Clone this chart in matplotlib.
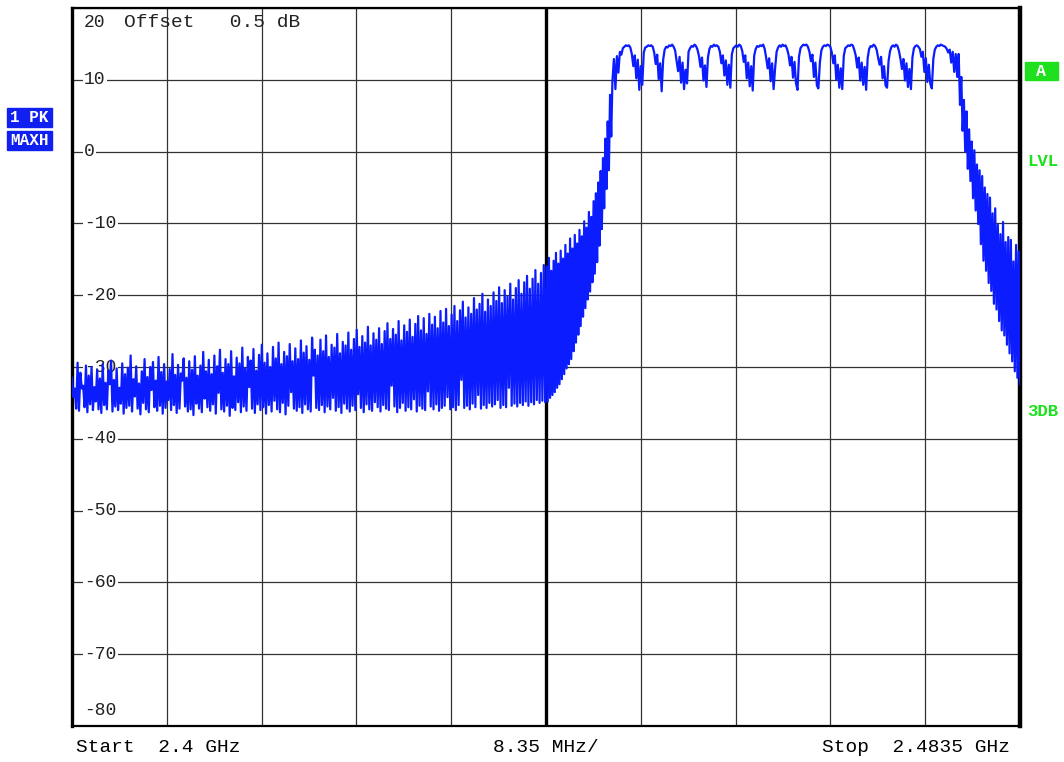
import numpy as np
import matplotlib.pyplot as plt
from matplotlib.patches import Rectangle

plt.rcParams['font.family'] = ['Liberation Mono', 'DejaVu Sans Mono']

# sweep span in MHz and the break points between trace sections
F_START, F_STOP = 2400.0, 2483.5
F_RISE, F_BAND, F_FALL = 2441.8, 2447.6, 2478.1

# noise floor below the band: max-hold peaks and the dips between them (dBm)
floor_peaks = [
    -31.5, -33.0, -29.4, -30.8, -32.6, -29.8, -31.2, -30.0, -32.8, -30.4,
    -31.6, -29.6, -32.2, -30.5, -29.1, -31.8, -30.2, -32.9, -29.5, -31.0,
    -30.1, -28.4, -31.7, -29.9, -32.3, -30.6, -28.9, -31.4, -30.0, -29.3,
    -31.9, -28.6, -30.7, -29.6, -32.0, -30.3, -28.2, -31.1, -29.7, -30.9,
    -28.8, -31.5, -29.2, -30.4, -28.5, -31.2, -29.8, -27.9, -30.6, -29.0,
    -31.0, -28.4, -29.9, -27.6, -30.8, -28.9, -29.6, -27.8, -31.3, -28.7,
    -29.5, -27.3, -30.2, -28.6, -29.1, -27.5, -30.5, -28.3, -26.9, -29.4,
    -28.1, -30.0, -27.2, -28.8, -26.6, -29.6, -27.9, -28.5, -26.8, -29.2,
    -27.4, -28.9, -26.3, -28.0, -27.1, -29.0, -25.9, -27.6, -28.4, -26.2,
    -27.8, -25.6, -28.6, -26.9, -27.3, -25.4, -28.1, -26.5, -27.0, -25.2,
    -27.6, -26.1, -24.8, -27.2, -25.7, -26.6, -24.4, -27.0, -25.3, -26.2,
    -24.6, -26.8, -25.0, -23.9, -26.1, -24.7, -25.5, -23.6, -26.3, -24.2,
    -25.1, -23.4, -25.8, -24.0, -22.9, -24.9, -23.2, -25.4, -22.6, -24.1,
    -23.0, -24.6, -22.2, -23.8, -21.9, -24.3, -22.7, -21.5, -23.6, -22.1,
    -20.9, -23.1, -21.7, -22.6, -20.4, -22.0, -21.2, -19.8, -22.3, -20.6,
    -21.5, -19.6, -20.8, -18.9, -21.1, -19.3, -20.2, -18.4, -20.6, -19.0,
    -17.9, -19.8, -18.2, -17.3, -19.1, -17.7, -16.5, -18.4, -16.9, -15.8,
]
floor_dips = [
    -34.2, -35.8, -36.1, -33.0, -35.6, -36.3, -35.2, -36.0, -34.8, -35.9,
    -36.4, -35.3, -35.9, -32.4, -36.2, -35.5, -36.0, -35.1, -36.5, -35.7,
    -35.4, -36.2, -34.1, -35.8, -36.6, -35.0, -35.9, -36.3, -33.2, -35.6,
    -36.1, -35.4, -36.5, -35.7, -34.6, -36.0, -35.3, -36.4, -35.8, -31.9,
    -35.5, -36.2, -35.9, -36.7, -35.1, -35.8, -36.3, -34.4, -35.6, -36.1,
    -35.2, -36.5, -33.6, -35.9, -36.2, -35.4, -36.8, -35.7, -36.0, -34.9,
    -36.3, -35.5, -36.1, -32.8, -35.8, -36.4, -35.2, -36.0, -35.6, -36.5,
    -35.3, -36.2, -34.7, -35.9, -36.3, -35.0, -36.6, -35.4, -33.5, -35.8,
    -36.1, -35.6, -36.4, -35.2, -35.9, -36.2, -31.2, -35.7, -36.0, -35.3,
    -36.3, -35.5, -35.9, -34.3, -36.1, -35.6, -36.4, -35.1, -35.8, -36.2,
    -35.4, -36.0, -33.8, -35.7, -36.3, -35.2, -35.9, -36.1, -34.9, -35.6,
    -36.2, -35.3, -35.8, -36.0, -32.6, -35.5, -36.3, -35.7, -35.0, -36.1,
    -35.6, -35.9, -34.5, -36.2, -35.4, -35.8, -36.0, -33.4, -35.5, -35.9,
    -35.2, -36.1, -35.7, -35.4, -34.2, -35.9, -35.6, -36.0, -35.3, -31.8,
    -35.7, -35.4, -35.9, -35.1, -35.6, -33.9, -35.8, -35.3, -35.7, -35.0,
    -35.5, -35.2, -34.6, -35.7, -35.3, -35.6, -32.9, -35.4, -35.1, -35.5,
    -35.0, -35.3, -34.8, -35.4, -34.9, -35.2, -34.6, -35.0, -34.7, -34.9,
]

# lower band edge
rise_peaks = [
    -16.0, -14.8, -16.6, -15.2, -14.1, -15.6, -13.8, -14.9, -13.0, -14.2,
    -12.1, -13.5, -11.6, -12.8, -10.9, -11.8, -9.7, -10.6, -8.4, -9.1,
    -6.9, -5.8, -4.3, -2.7, -0.9, 1.8, 4.2, 7.9,
]
rise_dips = [
    -34.8, -34.3, -33.9, -33.5, -32.9, -32.4, -31.7, -31.0, -30.2, -29.6,
    -28.9, -27.8, -26.6, -25.5, -24.3, -23.0, -21.8, -20.6, -19.5, -18.2,
    -17.0, -15.4, -13.1, -10.8, -7.9, -5.2, -2.6, 2.1,
]

# in-band level, 2 MHz hopping channels
band_level = [
    9.8, 12.9, 8.7, 13.3, 11.0, 13.9, 13.5, 14.4, 14.6, 14.8,
    14.7, 14.8, 14.5, 13.6, 11.9, 13.4, 10.2, 12.8, 8.6, 11.9,
    9.3, 13.8, 14.5, 14.6, 14.8, 14.7, 14.8, 14.6, 13.8, 12.2,
    13.5, 10.1, 12.3, 8.4, 12.8, 14.2, 14.6, 14.5, 14.8, 14.7,
    14.9, 14.6, 14.1, 12.7, 11.2, 13.2, 9.6, 12.4, 8.7, 11.4,
    9.5, 13.9, 14.4, 14.7, 14.6, 14.9, 14.7, 14.2, 13.3, 11.8,
    13.1, 9.9, 12.0, 9.0, 13.1, 14.3, 14.7, 14.6, 14.9, 14.7,
    14.8, 14.6, 13.9, 12.3, 13.4, 10.6, 12.7, 9.3, 12.1, 8.9,
    13.5, 14.4, 14.6, 14.8, 14.6, 14.9, 14.7, 14.0, 12.5, 13.4,
    10.2, 12.4, 9.1, 11.9, 8.5, 13.4, 14.3, 14.7, 14.6, 14.8,
    14.7, 14.9, 14.3, 13.1, 11.6, 13.0, 9.8, 12.3, 8.7, 11.6,
    13.9, 14.5, 14.8, 14.6, 14.9, 14.7, 14.8, 14.3, 13.5, 12.0,
    13.2, 10.3, 12.5, 9.5, 8.6, 13.2, 14.4, 14.7, 14.9, 14.8,
    14.9, 14.6, 13.9, 12.6, 13.5, 10.4, 12.4, 9.2, 8.8, 12.4,
    14.1, 14.6, 14.8, 14.7, 14.9, 14.8, 14.6, 13.8, 12.3, 13.4,
    10.0, 12.1, 8.9, 11.6, 8.7, 13.3, 14.4, 14.6, 14.8, 14.7,
    14.9, 14.8, 14.2, 13.4, 11.7, 13.1, 9.9, 12.4, 9.3, 11.8,
    8.6, 13.0, 14.3, 14.7, 14.6, 14.9, 14.7, 14.2, 13.1, 12.1,
    13.2, 10.2, 11.9, 9.2, 8.9, 12.6, 14.0, 14.6, 14.8, 14.6,
    14.9, 14.7, 14.0, 12.9, 11.5, 12.9, 9.9, 12.3, 9.0, 11.5,
    8.7, 13.1, 14.4, 14.7, 14.8, 14.6, 14.3, 13.2, 13.9, 11.1,
    13.0, 9.7, 12.1, 9.4, 8.8, 12.9, 14.2, 14.6, 14.8, 14.7,
    14.9, 14.8, 14.7, 14.6, 14.3, 13.8, 14.2, 12.4, 13.9, 11.1,
    13.6, 10.4,
]

# upper band edge
fall_peaks = [
    13.6, 10.4, 7.2, 5.6, 3.1, 1.4, 0.2, -1.8, -2.6, -3.4,
    -5.0, -5.9, -6.4, -8.6, -7.9, -10.2, -11.5, -9.8, -12.6, -11.9,
    -12.3, -15.3, -13.0, -13.9,
]
fall_dips = [
    6.5, 2.9, 0.0, -2.4, -4.1, -6.5, -8.2, -10.1, -12.9, -15.2,
    -16.6, -18.3, -19.4, -21.2, -22.0, -23.6, -24.9, -25.6, -26.9, -28.1,
    -29.2, -30.6, -31.5, -32.4,
]

y_ticks = [20, 10, 0, -10, -20, -30, -40, -50, -60, -70, -80]

trace_blue = '#0b1cff'
green = '#1ee01e'


def interleave(a, b):
    return np.column_stack([a, b]).ravel()


floor = interleave(floor_peaks, floor_dips)
rise = interleave(rise_peaks, rise_dips)
fall = interleave(fall_peaks, fall_dips)

freq = np.concatenate([
    np.linspace(F_START, F_RISE, len(floor), endpoint=False),
    np.linspace(F_RISE, F_BAND, len(rise), endpoint=False),
    np.linspace(F_BAND, F_FALL, len(band_level), endpoint=False),
    np.linspace(F_FALL, F_STOP, len(fall)),
])
level = np.concatenate([floor, rise, band_level, fall])

W, H = 1064, 762
fig = plt.figure(figsize=(W / 100, H / 100), dpi=100)
ax = fig.add_axes([72 / W, 36 / H, 948 / W, 718 / H])

ax.set_xlim(F_START, F_STOP)
ax.set_ylim(-80, 20)
ax.set_xticks(np.linspace(F_START, F_STOP, 11))
ax.set_yticks(y_ticks)
ax.grid(True, color='#333333', lw=0.9)
ax.tick_params(length=0, labelbottom=False, labelleft=False)
ax.axvline((F_START + F_STOP) / 2, color='black', lw=2.4, zorder=1.6)
for side, lw in [('left', 2.4), ('right', 3.2), ('top', 1.6), ('bottom', 1.6)]:
    ax.spines[side].set_linewidth(lw)

# level labels inside the grid
px = (F_STOP - F_START) / 948
for v in y_ticks:
    yv = v
    if v == 20:
        yv = 18.0
    elif v == -80:
        yv = -77.9
    ax.text(F_START + 12 * px, yv, str(v), fontsize=13, va='center', ha='left',
            color='#222222', zorder=3,
            bbox=dict(facecolor='white', edgecolor='none', pad=1.0))

ax.text(F_START + 52 * px, 18.0, 'Offset   0.5 dB', fontsize=14, va='center',
        ha='left', color='#222222', zorder=3)

ax.plot(freq, level, color=trace_blue, lw=1.6, zorder=4)

# footer
fig.text(76 / W, 1 - 747 / H, 'Start  2.4 GHz', fontsize=14, va='center', ha='left')
fig.text(546 / W, 1 - 747 / H, '8.35 MHz/', fontsize=14, va='center', ha='center')
fig.text(1010 / W, 1 - 747 / H, 'Stop  2.4835 GHz', fontsize=14, va='center', ha='right')

# trace info boxes on the left
for text, y0 in [('1 PK', 108), ('MAXH', 131)]:
    fig.patches.append(Rectangle((7 / W, 1 - (y0 + 19) / H), 45 / W, 19 / H,
                                 transform=fig.transFigure, color='#1020f0'))
    fig.text(29.5 / W, 1 - (y0 + 9.5) / H, text, fontsize=11.5, fontweight='bold',
             color='white', va='center', ha='center')

# right side markers
fig.patches.append(Rectangle((1025 / W, 1 - 80 / H), 33 / W, 18 / H,
                             transform=fig.transFigure, color=green))
fig.text(1041.5 / W, 1 - 71 / H, 'A', fontsize=12, fontweight='bold',
         color='white', va='center', ha='center')
fig.text(1043 / W, 1 - 162 / H, 'LVL', fontsize=12.5, fontweight='bold',
         color=green, va='center', ha='center')
fig.text(1043 / W, 1 - 412 / H, '3DB', fontsize=12.5, fontweight='bold',
         color=green, va='center', ha='center')

fig.savefig('out.png', dpi=100)
